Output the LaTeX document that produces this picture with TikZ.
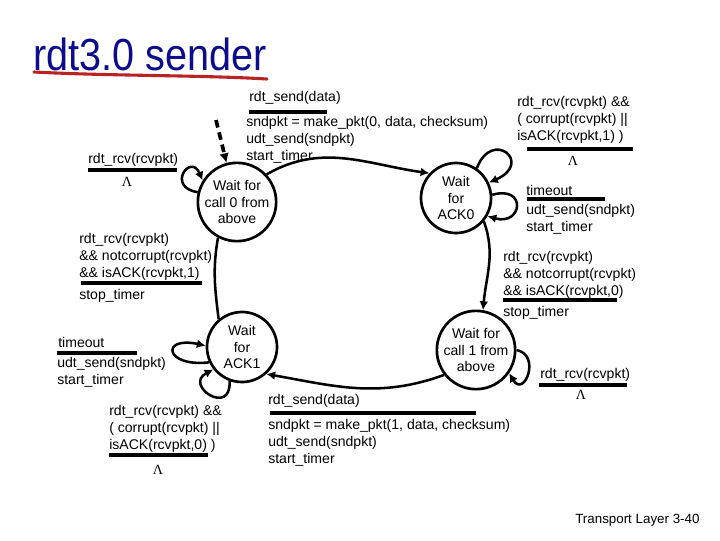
\documentclass[tikz,border=0pt]{standalone}
\usepackage{fontspec}
\setmainfont{Liberation Sans}
\newfontfamily\lamfont{Liberation Serif}
\usepackage{tikz}
\usetikzlibrary{positioning,arrows.meta}
\definecolor{titleblue}{RGB}{12,12,140}
\definecolor{brushred}{RGB}{185,35,35}

\begin{document}
\begin{tikzpicture}[x=0.025cm, y=0.025cm,
  state/.style={draw, circle, line width=1.9pt, minimum size=1.75cm, inner sep=0pt, align=center, font=\fontsize{10}{12}\selectfont},
  lbl/.style={anchor=north west, align=left, inner sep=0pt, font=\fontsize{10}{12}\selectfont},
  lam/.style={inner sep=0pt, font=\fontsize{10}{12}\lamfont},
  bar/.style={line width=2.2pt},
  arr/.style={-{Latex[length=2.2mm, width=2.2mm]}, line width=1.8pt},
  initarr/.style={-{Latex[length=2.4mm, width=2.4mm]}, line width=2.6pt, dash pattern=on 5.5pt off 3.5pt}
]
\useasboundingbox (0,0) rectangle (720,-540);

\node[anchor=base west, inner sep=0pt, text=titleblue, font=\fontsize{32}{36}\selectfont] (title) at (33,-70) {\scalebox{0.88}[1]{rdt3.0 sender}};
\draw[brushred, line width=2.2pt, line cap=round] (34,-72) .. controls (110,-76) and (200,-75) .. (267,-79);

\node[state] (call0) at (237,-202) {Wait for\\call 0 from\\above};
\node[state] (ack0) at (456,-198) {Wait\\for\\ACK0};
\node[state] (call1) at (476,-350) {Wait for\\call 1 from\\above};
\node[state] (ack1) at (242,-347) {Wait\\for\\ACK1};

\node[lbl] (send0ev) at (249,-91) {rdt\_send(data)};
\draw[bar] (249,-112) -- (327,-112);
\node[lbl] (send0act) at (246,-116) {sndpkt = make\_pkt(0, data, checksum)\\udt\_send(sndpkt)\\start\_timer};

\node[lbl] (rcv0ev) at (88,-153) {rdt\_rcv(rcvpkt)};
\draw[bar] (88,-170) -- (177,-170);
\node[lam] (rcv0act) at (127,-182) {Λ};

\node[lbl] (bad0ev) at (517,-96) {rdt\_rcv(rcvpkt) \&\&\\( corrupt(rcvpkt) ||\\isACK(rcvpkt,1) )};
\draw[bar] (527,-149) -- (633,-149);
\node[lam] (bad0act) at (573,-161) {Λ};

\node[lbl] (tout0ev) at (526,-185) {timeout};
\draw[bar] (527,-199) -- (605,-199);
\node[lbl] (tout0act) at (526,-204) {udt\_send(sndpkt)\\start\_timer};

\node[lbl] (ok0ev) at (503,-251) {rdt\_rcv(rcvpkt)\\\&\& notcorrupt(rcvpkt)\\\&\& isACK(rcvpkt,0)};
\draw[bar] (503,-300) -- (617,-300);
\node[lbl] (ok0act) at (503,-306) {stop\_timer};

\node[lbl] (ok1ev) at (79,-233) {rdt\_rcv(rcvpkt)\\\&\& notcorrupt(rcvpkt)\\\&\& isACK(rcvpkt,1)};
\draw[bar] (81,-283) -- (202,-283);
\node[lbl] (ok1act) at (79,-289) {stop\_timer};

\node[lbl] (tout1ev) at (58,-337) {timeout};
\draw[bar] (57,-353) -- (137,-353);
\node[lbl] (tout1act) at (57,-357) {udt\_send(sndpkt)\\start\_timer};

\node[lbl] (bad1ev) at (109,-405) {rdt\_rcv(rcvpkt) \&\&\\( corrupt(rcvpkt) ||\\isACK(rcvpkt,0) )};
\draw[bar] (109,-455) -- (208,-455);
\node[lam] (bad1act) at (158,-470) {Λ};

\node[lbl] (send1ev) at (268,-394) {rdt\_send(data)};
\draw[bar] (270,-413) -- (476,-413);
\node[lbl] (send1act) at (268,-419) {sndpkt = make\_pkt(1, data, checksum)\\udt\_send(sndpkt)\\start\_timer};

\node[lbl] (rcv1ev) at (540,-368) {rdt\_rcv(rcvpkt)};
\draw[bar] (539,-385) -- (627,-385);
\node[lam] (rcv1act) at (581,-395) {Λ};

\node[anchor=west, inner sep=0pt, font=\fontsize{9.5}{11}\selectfont] (footer) at (575,-520) {Transport Layer 3-40};

\coordinate (init) at (216,-120);
\draw[initarr] (init) -- (call0.105);
\draw[arr] (call0.43) to[out=30,in=172] (ack0.137);
\draw[arr] (call0.166) .. controls +(-32,5) and +(-12,28) .. (call0.148);
\draw[arr] (ack0.55) .. controls +(15,40) and +(45,20) .. (ack0.25);
\draw[arr] (ack0.5) .. controls +(35,10) and +(35,-10) .. (ack0.-30);
\draw[arr] (ack0.-40) to[out=-70,in=85] (call1.80);
\draw[arr] (call1.0) .. controls +(25,-5) and +(15,-25) .. (call1.-35);
\draw[arr] (call1.218) to[out=200,in=-10] (ack1.-48);
\draw[arr] (ack1.205) .. controls +(-45,-5) and +(-45,10) .. (ack1.178);
\draw[arr] (ack1.250) .. controls +(2,-36) and +(-30,-16) .. (ack1.218);
\draw[line width=1.8pt] (ack1.130) to[out=97,in=-100] (call0.242);
\end{tikzpicture}
\end{document}
